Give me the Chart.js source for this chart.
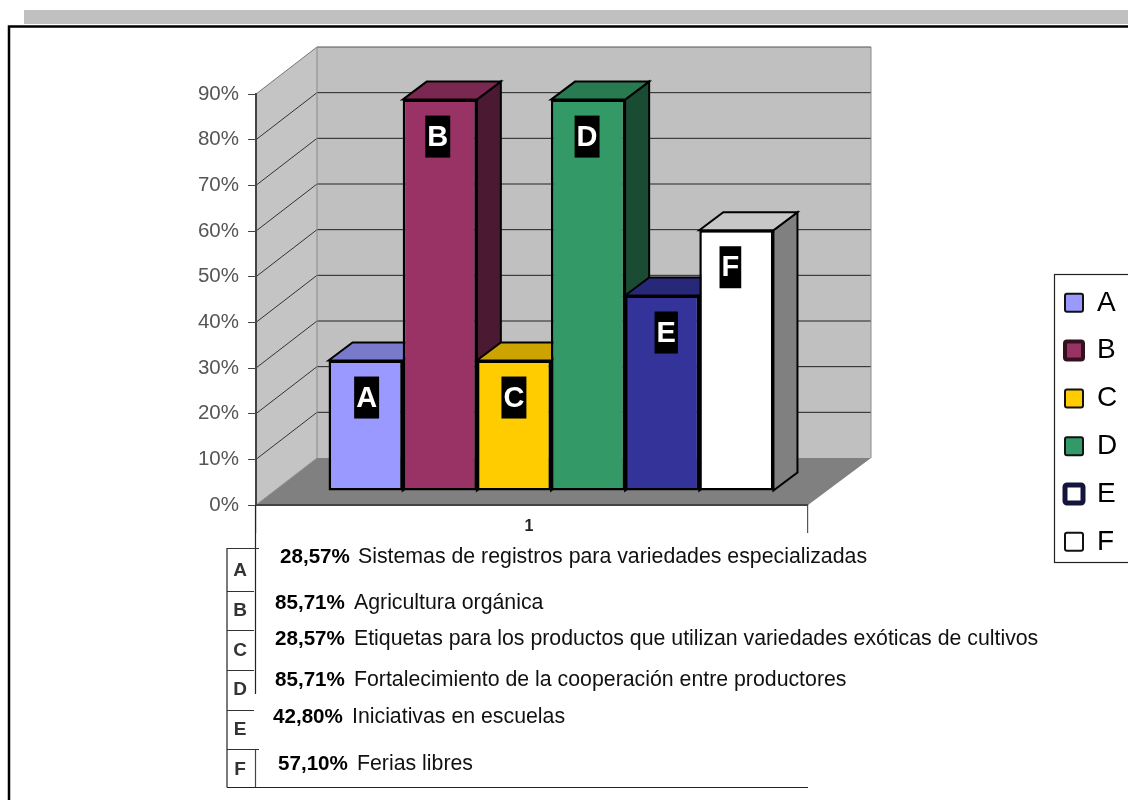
<!DOCTYPE html>
<html><head><meta charset="utf-8">
<style>html,body{margin:0;padding:0;background:#fff}canvas{display:block}</style>
<script src="https://cdn.jsdelivr.net/npm/chart.js@4"></script>
</head><body>
<canvas id="c" width="1128" height="800"></canvas>
<script>
const categories = ['1'];
const seriesNames = ['A','B','C','D','E','F'];
const seriesValues = [28.57,85.71,28.57,85.71,42.80,57.10];
const seriesColors = ['#9999ff','#993366','#ffcc00','#339966','#333399','#ffffff'];
const yTicks = [0,10,20,30,40,50,60,70,80,90];
const tablePercents = ['28,57%','85,71%','28,57%','85,71%','42,80%','57,10%'];
const tableTexts = ['Sistemas de registros para variedades especializadas','Agricultura orgánica','Etiquetas para los productos que utilizan variedades exóticas de cultivos','Fortalecimiento de la cooperación entre productores','Iniciativas en escuelas','Ferias libres'];

const FONT = '"Liberation Sans", Arial, sans-serif';
const WALL = {dx:61, dxRight:63, dy:-47}, SHIFT = {dx:19, dy:-14}, BAR = {dx:24, dy:-18};
const labelNudge = [1,-2,0,-1,4,-6];
const tableRows = [557,603,639,680,717,764];
const tableLeft = [280,275,275,275,273,278];
const tableDesc = [358,354,354,354,352,357];
const letterY = [571,611,651,690,730,770];
const rowLines = [548,591,630,670,710,749];
const legendFill = ['#9999ff','#993366','#ffcc00','#339966','#ffffff','#ffffff'];
const legendEdge = ['#111','#33121f','#111','#111','#14143d','#111'];
const legendWidth = [2,4,2,2,5,2];

function shade(hex,f){
  const n=parseInt(hex.slice(1),16);
  return `rgb(${(n>>16&255)*f|0},${(n>>8&255)*f|0},${(n&255)*f|0})`;
}
function poly(ctx,pts,fill,stroke,w){
  ctx.beginPath();pts.forEach((p,i)=>i?ctx.lineTo(p[0],p[1]):ctx.moveTo(p[0],p[1]));ctx.closePath();
  if(fill){ctx.fillStyle=fill;ctx.fill();}
  if(stroke){ctx.strokeStyle=stroke;ctx.lineWidth=w;ctx.stroke();}
}
function line(ctx,x1,y1,x2,y2,c,w){ctx.beginPath();ctx.moveTo(x1,y1);ctx.lineTo(x2,y2);ctx.strokeStyle=c;ctx.lineWidth=w;ctx.stroke();}

const scene = {
  id:'scene',
  afterLayout(chart){
    const l=chart.legend; l.left=1045.2; l.right=1128; l.top=269; l.bottom=640;
  },
  beforeDraw(chart){
    const ctx=chart.ctx, a=chart.chartArea, y=chart.scales.y;
    ctx.save();
    ctx.fillStyle='#fff';ctx.fillRect(0,0,chart.width,chart.height);
    ctx.fillStyle='#c0c0c0';ctx.fillRect(24,10,1104,14);
    poly(ctx,[[9,803],[9,26.5],[1130,26.5],[1130,803]],null,'#000',2.5);
    // legend frame
    ctx.strokeStyle='#222';ctx.lineWidth=1.2;ctx.strokeRect(1054.5,274.5,80,288);
    // walls and floor
    const L=a.left,R=a.right,T=a.top,B=a.bottom,dx=WALL.dx,dxr=WALL.dxRight,dy=WALL.dy;
    poly(ctx,[[L,T],[L+dx,T+dy],[L+dx,B+dy],[L,B]],'#c4c4c4');
    poly(ctx,[[L+dx,T+dy],[R+dxr,T+dy],[R+dxr,B+dy],[L+dx,B+dy]],'#c0c0c0');
    poly(ctx,[[L,B],[L+dx,B+dy],[R+dxr,B+dy],[R,B]],'#808080');
    yTicks.forEach(v=>{
      if(v===0) return;
      const p=y.getPixelForValue(v);
      line(ctx,L,p,L+dx,p+dy,v===90?'#777':'#333',1);
      line(ctx,L+dx,p+dy,R+dxr,p+dy,v===90?'#555':'#222',1);
    });
    line(ctx,L+dx,T+dy,L+dx,B+dy,'#8a8a8a',1);
    line(ctx,R+dxr,T+dy,R+dxr,B+dy,'#8a8a8a',1);
    line(ctx,L,B,L+dx,B+dy,'#909090',1);
    ctx.restore();
  },
  beforeDatasetDraw(){ return false; },
  afterDatasetsDraw(chart){
    const ctx=chart.ctx;
    ctx.save();
    ctx.translate(SHIFT.dx,SHIFT.dy);
    seriesNames.forEach((name,i)=>{
      const bar=chart.getDatasetMeta(i).data[0];
      const x0=bar.x-bar.width/2,x1=bar.x+bar.width/2,t=bar.y,b=bar.base;
      const c=seriesColors[i], topC=i===5?'#c8c8c8':shade(c,.8), sideC=i===5?'#808080':shade(c,.5);
      poly(ctx,[[x1,t],[x1+BAR.dx,t+BAR.dy],[x1+BAR.dx,b+BAR.dy],[x1,b]],sideC,'#000',2);
      poly(ctx,[[x0,t],[x0+BAR.dx,t+BAR.dy],[x1+BAR.dx,t+BAR.dy],[x1,t]],topC,'#000',2);
      bar.draw(ctx);
    });
    seriesNames.forEach((name,i)=>{
      const bar=chart.getDatasetMeta(i).data[0];
      const cx=bar.x+labelNudge[i], cy=bar.y+37;
      ctx.font='bold 29px '+FONT;
      const w=ctx.measureText(name).width+4;
      ctx.fillStyle='#000';ctx.fillRect(cx-w/2,cy-21,w,42);
      ctx.fillStyle='#fff';ctx.textAlign='center';ctx.textBaseline='middle';
      ctx.fillText(name,cx,cy+1);
    });
    ctx.restore();
  },
  afterDraw(chart){
    const ctx=chart.ctx,a=chart.chartArea;
    ctx.save();
    // data table lines
    const tl=227,tr=255.5,bottom=787.5;
    line(ctx,tr,a.bottom,tr,694,'#222',1.2);
    line(ctx,tr,749,tr,bottom,'#444',1.2);
    line(ctx,tl,548,tl,bottom,'#222',1.2);
    rowLines.forEach((y,i)=>line(ctx,tl,y+.5,i===0||i===5?259:254,y+.5,'#333',1));
    line(ctx,tl,bottom,a.right,bottom,'#222',1.2);
    ctx.textBaseline='middle';
    seriesNames.forEach((n,i)=>{
      ctx.textAlign='center';ctx.fillStyle='#333';ctx.font='bold 19px '+FONT;
      ctx.fillText(n,240,letterY[i]);
      ctx.textAlign='left';ctx.fillStyle='#000';
      ctx.font='bold 20.6px '+FONT;
      ctx.fillText(tablePercents[i],tableLeft[i],tableRows[i]);
      ctx.font='21.3px '+FONT;ctx.fillStyle='#111';
      ctx.fillText(tableTexts[i],tableDesc[i],tableRows[i]);
    });
    ctx.restore();
  }
};

new Chart(document.getElementById('c'),{
  type:'bar',
  data:{labels:categories,datasets:seriesNames.map((n,i)=>({
    label:n,data:[seriesValues[i]],backgroundColor:seriesColors[i],borderColor:'#000',borderWidth:2.5,borderSkipped:false,
    categoryPercentage:.806,barPercentage:1
  }))},
  options:{
    responsive:false,animation:false,
    layout:{padding:{top:94,right:320,left:0,bottom:0}},
    scales:{
      x:{
        afterFit(s){s.height=295;},
        grid:{drawOnChartArea:false,tickLength:28,color:'#555',lineWidth:1.2},
        border:{color:'#444',width:2},
        ticks:{color:'#222',font:{family:FONT,size:16,weight:'bold'},padding:-16,labelOffset:-3}
      },
      y:{
        min:0,max:90,
        afterFit(s){s.width=256;},
        afterBuildTicks(s){s.ticks=yTicks.map(v=>({value:v}));},
        grid:{drawOnChartArea:false,tickLength:8,color:'#444',lineWidth:1},
        border:{color:'#444',width:2},
        ticks:{color:'#555',font:{family:FONT,size:20.5},padding:9,callback:v=>v+'%'}
      }
    },
    plugins:{
      tooltip:{enabled:false},
      legend:{
        position:'chartArea',align:'start',
        labels:{
          boxWidth:18,boxHeight:18,padding:19.8,color:'#222',font:{family:FONT,size:28},
          generateLabels:()=>seriesNames.map((n,i)=>({text:n,fillStyle:legendFill[i],strokeStyle:legendEdge[i],lineWidth:legendWidth[i],hidden:false,datasetIndex:i,borderRadius:2}))
        }
      }
    }
  },
  plugins:[scene]
});
</script>
</body></html>
